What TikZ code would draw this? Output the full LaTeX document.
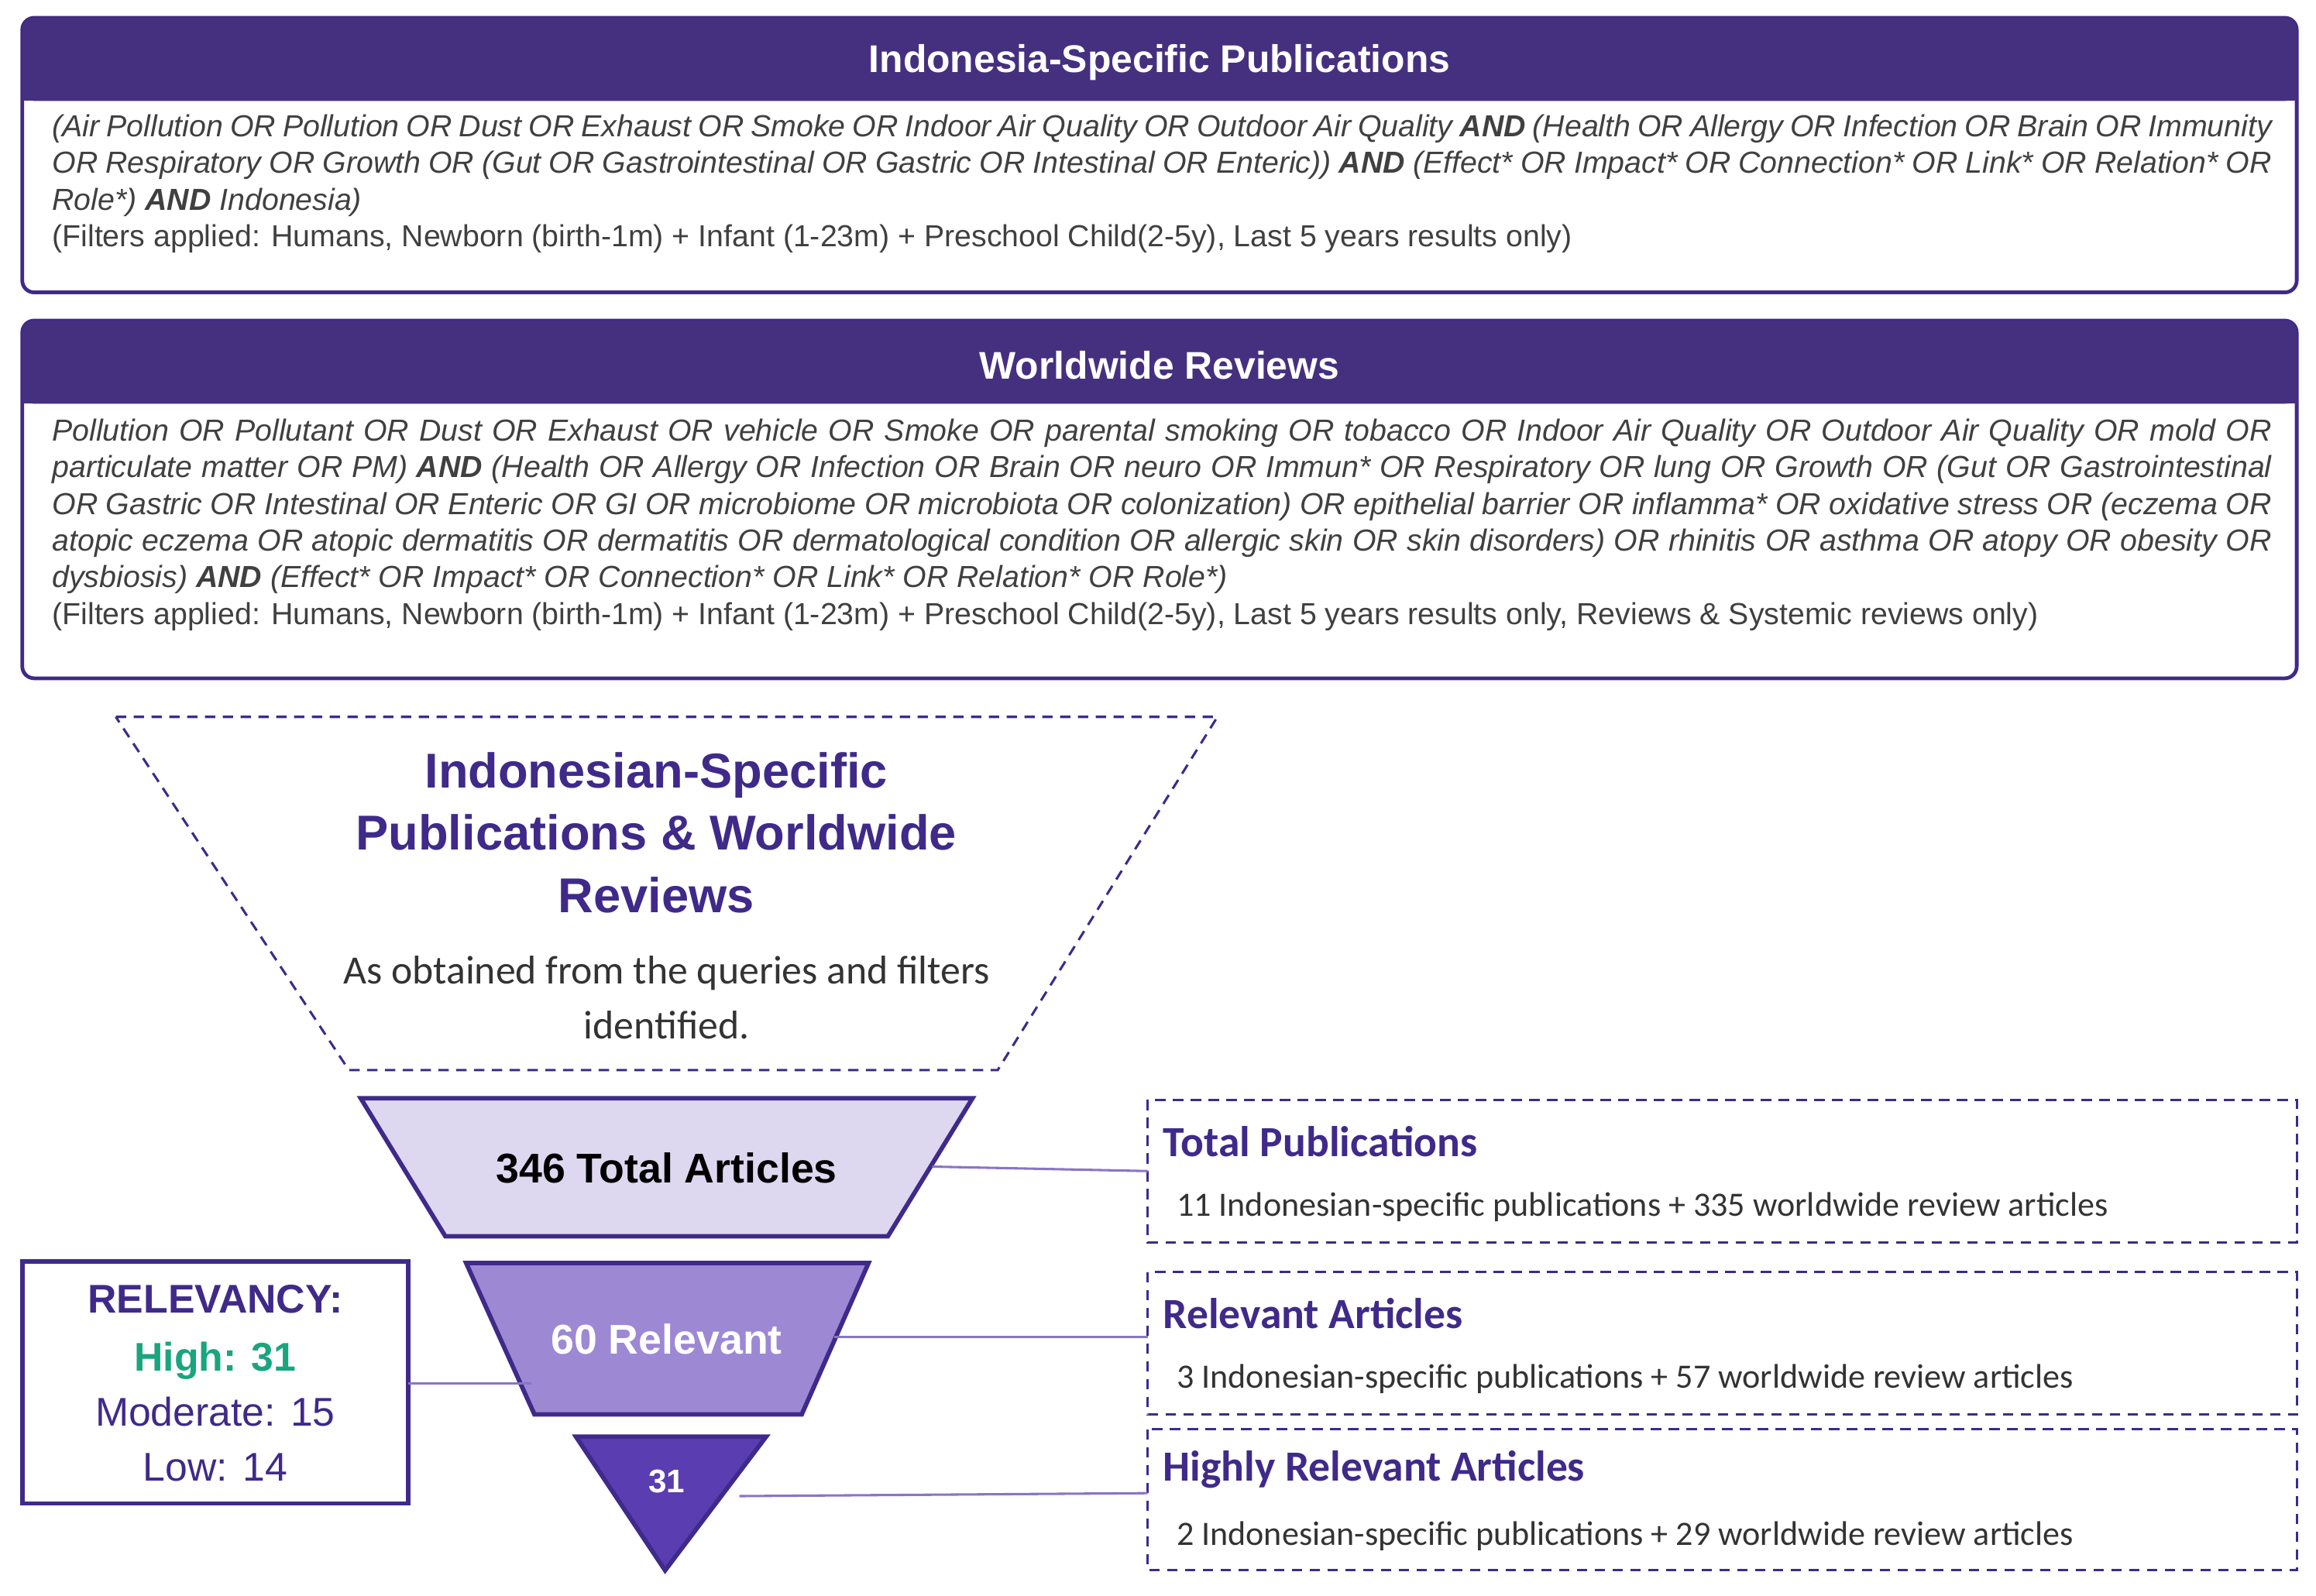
\documentclass[tikz,border=0pt]{standalone}
\usepackage{fontspec}
\setmainfont{Liberation Sans}
\newfontfamily\carl{Carlito}
\definecolor{hdr}{HTML}{45307F}
\definecolor{pur}{HTML}{3F2A8A}
\definecolor{lt}{HTML}{DDD8EF}
\definecolor{md}{HTML}{9D88D4}
\definecolor{dk}{HTML}{5A3DB0}
\definecolor{grn}{HTML}{1AA57F}
\definecolor{qt}{HTML}{404040}
\tikzset{
  box/.style={draw=pur,line width=2.5pt,rounded corners=8pt},
  hd/.style={text=white,font=\bfseries\fontsize{26}{30}\selectfont},
  qry/.style={anchor=north west,inner sep=0pt,text width=1495pt,align=justify,text=qt,font=\fontsize{20.5}{24.7}\selectfont},
  dsh/.style={draw=pur,line width=1.6pt,dash pattern=on 7pt off 5pt},
  fun/.style={draw=pur,line width=3pt,line join=miter},
  conn/.style={draw=md!80!pur,line width=1.6pt},
  rh/.style={anchor=west,text=pur,font=\bfseries\fontsize{29}{32}\selectfont\carl},
  rb/.style={anchor=west,text=black!80,font=\fontsize{23}{26}\selectfont\carl},
}
\begin{document}
\begin{tikzpicture}[x=1pt,y=-1pt]
\useasboundingbox (0,0) rectangle (1560,1075);
% box 1
\draw[box,fill=white] (15,12) rectangle (1547,197);
\fill[hdr,rounded corners=8pt] (15,12) rectangle (1547,68);
\fill[hdr] (15,40) rectangle (1547,68);
\node[hd] (t1) at (781,42) {Indonesia-Specific Publications};
\node[qry] (q1) at (35,77) {\itshape (Air Pollution OR Pollution OR Dust OR Exhaust OR Smoke OR Indoor Air Quality OR Outdoor Air Quality \textbf{AND} (Health OR Allergy OR Infection OR Brain OR Immunity OR Respiratory OR Growth OR (Gut OR Gastrointestinal OR Gastric OR Intestinal OR Enteric)) \textbf{AND} (Effect* OR Impact* OR Connection* OR Link* OR Relation* OR Role*) \textbf{AND} Indonesia)\par\upshape (Filters applied: Humans, Newborn (birth-1m) + Infant (1-23m) + Preschool Child(2-5y), Last 5 years results only)};
% box 2
\draw[box,fill=white] (15,216) rectangle (1547,457);
\fill[hdr,rounded corners=8pt] (15,216) rectangle (1547,272);
\fill[hdr] (15,244) rectangle (1547,272);
\node[hd] (t2) at (781,246) {Worldwide Reviews};
\node[qry] (q2) at (35,282) {\itshape Pollution OR Pollutant OR Dust OR Exhaust OR vehicle OR Smoke OR parental smoking OR tobacco OR Indoor Air Quality OR Outdoor Air Quality OR mold OR particulate matter OR PM) \textbf{AND} (Health OR Allergy OR Infection OR Brain OR neuro OR Immun* OR Respiratory OR lung OR Growth OR (Gut OR Gastrointestinal OR Gastric OR Intestinal OR Enteric OR GI OR microbiome OR microbiota OR colonization) OR epithelial barrier OR inflamma* OR oxidative stress OR (eczema OR atopic eczema OR atopic dermatitis OR dermatitis OR dermatological condition OR allergic skin OR skin disorders) OR rhinitis OR asthma OR atopy OR obesity OR dysbiosis) \textbf{AND} (Effect* OR Impact* OR Connection* OR Link* OR Relation* OR Role*)\par\upshape (Filters applied: Humans, Newborn (birth-1m) + Infant (1-23m) + Preschool Child(2-5y), Last 5 years results only, Reviews \& Systemic reviews only)};
% dashed funnel top
\draw[dsh] (78,483) -- (820,483) -- (672,721) -- (235,721) -- cycle;
\node[text=pur,align=center,font=\bfseries\fontsize{33}{42}\selectfont] (ft) at (442,561) {Indonesian-Specific\\Publications \& Worldwide\\Reviews};
\node[text=black!80,align=center,font=\fontsize{27}{37}\selectfont\carl] (fs) at (449,672) {As obtained from the queries and filters\\identified.};
% funnel stages
\draw[fun,fill=lt] (243,740) -- (655,740) -- (598,833) -- (300,833) -- cycle;
\node[font=\bfseries\fontsize{28}{34}\selectfont] (s1) at (449,787) {346 Total Articles};
\draw[fun,fill=md] (314,851) -- (585,851) -- (540,953) -- (360,953) -- cycle;
\node[text=white,font=\bfseries\fontsize{28}{34}\selectfont] (s2) at (449,902) {60 Relevant};
\draw[fun,fill=dk] (388,968) -- (516,968) -- (448,1058) -- cycle;
\node[text=white,font=\bfseries\fontsize{22}{28}\selectfont] (s3) at (449,998) {31};
\coordinate (s1r) at (628,786);
\coordinate (s2r) at (562,901);
\coordinate (s2l) at (358,932);
\coordinate (s3r) at (498,1008);
% relevancy
\draw[draw=pur,line width=3pt] (15,850) rectangle (275,1013);
\node[text=pur,align=center,font=\fontsize{27}{37}\selectfont] (rel) at (145,932) {\textbf{RELEVANCY:}\\[2pt]\textcolor{grn}{\textbf{High: 31}}\\Moderate: 15\\Low: 14};
\coordinate (relr) at (275,932);
\draw[conn] (relr) -- (s2l);
% right boxes
\draw[dsh] (773,741) rectangle (1547,837);
\draw[dsh] (773,857) rectangle (1547,953);
\draw[dsh] (773,963) rectangle (1547,1058);
\node[rh] (h1) at (780,769) {Total Publications};
\node[rb] (b1) at (789,813) {11 Indonesian-specific publications + 335 worldwide review articles};
\node[rh] (h2) at (780,885) {Relevant Articles};
\node[rb] (b2) at (789,929) {3 Indonesian-specific publications + 57 worldwide review articles};
\node[rh] (h3) at (780,990) {Highly Relevant Articles};
\node[rb] (b3) at (789,1035) {2 Indonesian-specific publications + 29 worldwide review articles};
\coordinate (r1) at (773,789);
\coordinate (r2) at (773,901);
\coordinate (r3) at (773,1006);
\draw[conn] (s1r) -- (r1);
\draw[conn] (s2r) -- (r2);
\draw[conn] (s3r) -- (r3);
\end{tikzpicture}
\end{document}
